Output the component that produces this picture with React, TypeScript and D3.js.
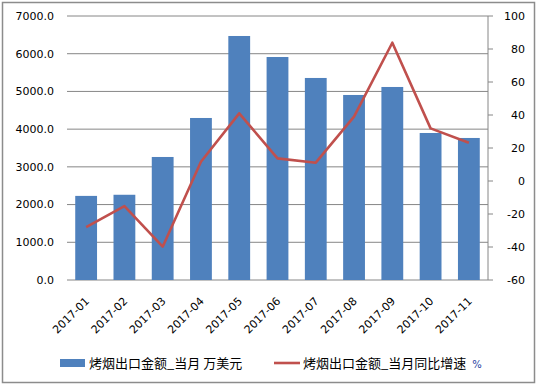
import * as d3 from "d3"

const months = ["2017-01", "2017-02", "2017-03", "2017-04", "2017-05", "2017-06", "2017-07", "2017-08", "2017-09", "2017-10", "2017-11"]
const exportValue = [2230, 2260, 3262, 4296, 6470, 5913, 5357, 4906, 5118, 3898, 3766]
const yoyGrowth = [-28, -15.2, -39.8, 11.7, 41, 13.7, 11.1, 39, 83.8, 31.9, 23.2]
const leftTicks = [0, 1000, 2000, 3000, 4000, 5000, 6000, 7000]
const rightTicks = [-60, -40, -20, 0, 20, 40, 60, 80, 100]

const barLabel = "烤烟出口金额_当月 万美元"
const lineLabel = "烤烟出口金额_当月同比增速"

const W = 539
const H = 387
const plot = { left: 67, right: 488, top: 16, bottom: 280 }
const BLUE = "#4F81BD"
const RED = "#C0504D"
const GRID = "#868686"
const FONT = "'DejaVu Sans', Verdana, sans-serif"
const CJK = "'Noto Sans CJK SC', sans-serif"

export default function App() {
  const x = d3.scaleBand<string>().domain(months).range([plot.left, plot.right]).paddingInner(0.43).paddingOuter(0.215)
  const yLeft = d3.scaleLinear().domain([0, 7000]).range([plot.bottom, plot.top])
  const yRight = d3.scaleLinear().domain([-60, 100]).range([plot.bottom, plot.top])

  const line = d3
    .line<number>()
    .x((_, i) => x(months[i])! + x.bandwidth() / 2)
    .y((d) => yRight(d))

  return (
    <svg width={W} height={H} style={{ position: "absolute", left: 0, top: 0, background: "#fff" }}>
      <rect x={2.5} y={2.5} width={532} height={380} fill="#fff" stroke="#8c8c8c" strokeWidth={1.5} />

      {/* gridlines */}
      {leftTicks.map((t) => (
        <line key={t} x1={plot.left} x2={plot.right} y1={yLeft(t)} y2={yLeft(t)} stroke={GRID} strokeWidth={1} />
      ))}

      {/* bars */}
      {exportValue.map((v, i) => (
        <rect key={months[i]} x={x(months[i])} y={yLeft(v)} width={x.bandwidth()} height={yLeft(0) - yLeft(v)} fill={BLUE} />
      ))}

      {/* line */}
      <path d={line(yoyGrowth) ?? ""} fill="none" stroke={RED} strokeWidth={2.6} strokeLinejoin="round" />

      {/* left axis labels */}
      {leftTicks.map((t) => (
        <text key={t} x={54} y={yLeft(t)} dy="0.35em" textAnchor="end" fontFamily={FONT} fontSize={11} fill="#000">
          {d3.format(".1f")(t)}
        </text>
      ))}

      {/* right axis */}
      <line x1={plot.right} x2={plot.right} y1={plot.top} y2={plot.bottom} stroke={GRID} />
      {rightTicks.map((t) => (
        <g key={t}>
          <line x1={plot.right} x2={plot.right + 5} y1={yRight(t)} y2={yRight(t)} stroke={GRID} />
          <text x={525} y={yRight(t)} dy="0.35em" textAnchor="end" fontFamily={FONT} fontSize={11} fill="#000">
            {t}
          </text>
        </g>
      ))}

      {/* x labels */}
      {months.map((m) => {
        const cx = x(m)! + x.bandwidth() / 2 + 1
        const cy = plot.bottom + 19
        return (
          <text key={m} transform={`translate(${cx},${cy}) rotate(-45)`} textAnchor="end" dy="0.35em" fontFamily={FONT} fontSize={11} fill="#000">
            {m}
          </text>
        )
      })}

      {/* legend */}
      <rect x={60} y={359} width={25} height={8} fill={BLUE} />
      <text x={89} y={363} dy="0.38em" fontFamily={CJK} fontSize={13} fill="#000">
        {barLabel}
      </text>
      <line x1={274} x2={300} y1={363} y2={363} stroke={RED} strokeWidth={2.6} />
      <text x={303} y={363} dy="0.38em" fontFamily={CJK} fontSize={13} fill="#000">
        {lineLabel}
        <tspan dx={6} fontFamily={FONT} fontSize={10} fill="#1f3f9f">%</tspan>
      </text>
    </svg>
  )
}
